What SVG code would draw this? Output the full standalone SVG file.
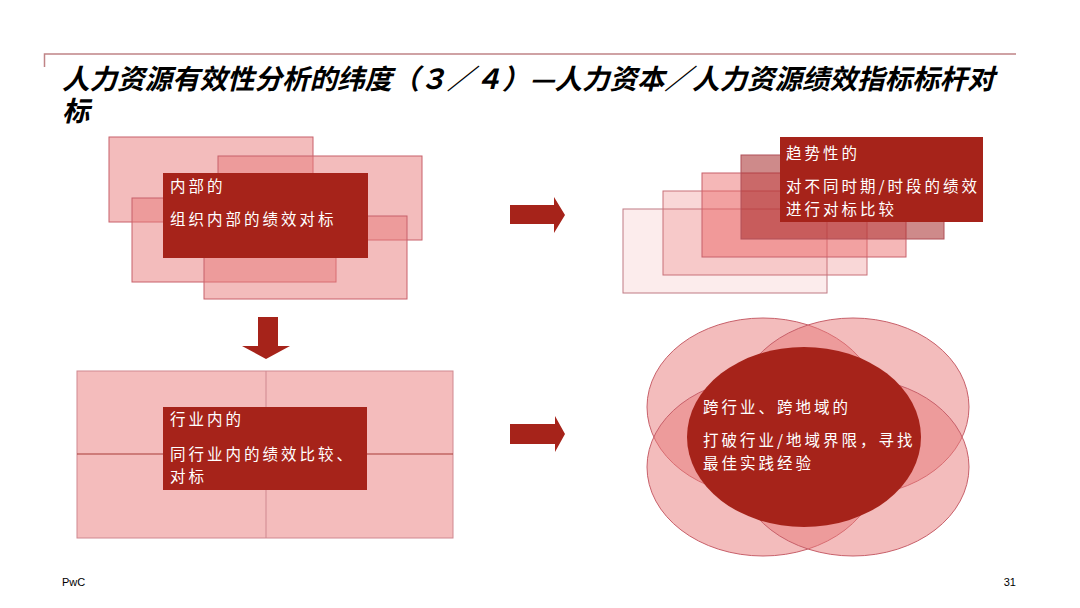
<svg xmlns="http://www.w3.org/2000/svg" width="1080" height="608" viewBox="0 0 1080 608">
<defs>
<style>
.title{font-family:"Noto Sans CJK SC","Noto Sans",sans-serif;font-size:27.5px;font-style:italic;font-weight:bold;fill:#000}
.bt{font-family:"Noto Sans CJK SC","Noto Sans",sans-serif;font-size:15.5px;fill:#fff;letter-spacing:3px}
.foot{font-family:"Liberation Sans",Arial,sans-serif;font-size:11px;fill:#000}
.pk{fill:#e8797a;fill-opacity:0.5;stroke:#c8606a;stroke-width:1}
.dk{fill:#a6231a}
.arr{fill:#a6231a}
</style>
</defs>
<rect width="1080" height="608" fill="#fff"/>
<g id="title">
<polyline points="44.5,67 44.5,54 1016,54" fill="none" stroke="#c08486" stroke-width="1.5"/>
<text class="title" x="62" y="89">人力资源有效性分析的纬度（３／４）—人力资本／人力资源绩效指标标杆对</text>
<text class="title" x="62" y="121">标</text>
</g>
<g id="internal">
<rect class="pk" x="109" y="137" width="204" height="85"/>
<rect class="pk" x="218" y="156" width="204" height="84"/>
<rect class="pk" x="132" y="198" width="204" height="84"/>
<rect class="pk" x="204" y="216" width="203" height="83"/>
<rect class="dk" x="163" y="173" width="205" height="85"/>
<text class="bt" x="170" y="192">内部的</text>
<text class="bt" x="170" y="225">组织内部的绩效对标</text>
</g>
<g id="trend">
<rect x="623" y="209" width="204" height="84" fill="#e8605f" fill-opacity="0.12" stroke="#c07a84" stroke-width="1"/>
<rect x="663" y="191" width="204" height="84" fill="#e8605f" fill-opacity="0.25" stroke="#c87078" stroke-width="1"/>
<rect x="702" y="173" width="204" height="84" fill="#e8605f" fill-opacity="0.45" stroke="#c8606a" stroke-width="1"/>
<rect x="741" y="155" width="203" height="84" fill="#a52a2a" fill-opacity="0.55" stroke="#b05058" stroke-width="1"/>
<rect class="dk" x="780" y="137" width="203" height="85"/>
<text class="bt" x="786" y="159">趋势性的</text>
<text class="bt" x="786" y="192">对不同时期/时段的绩效</text>
<text class="bt" x="786" y="215">进行对标比较</text>
</g>
<g id="industry">
<rect x="77" y="371" width="376" height="167" fill="#f4bcbc" stroke="#d08890" stroke-width="1"/>
<line x1="266" y1="371" x2="266" y2="538" stroke="#d08890" stroke-width="1"/>
<line x1="77" y1="454" x2="453" y2="454" stroke="#a83a36" stroke-width="1"/>
<rect class="dk" x="163" y="407" width="204" height="83"/>
<text class="bt" x="170" y="425">行业内的</text>
<text class="bt" x="170" y="460">同行业内的绩效比较、</text>
<text class="bt" x="170" y="482">对标</text>
</g>
<g id="cross">
<ellipse class="pk" cx="763" cy="407" rx="116" ry="89"/>
<ellipse class="pk" cx="853" cy="407" rx="116" ry="89"/>
<ellipse class="pk" cx="763" cy="467" rx="116" ry="89"/>
<ellipse class="pk" cx="853" cy="467" rx="116" ry="89"/>
<ellipse class="dk" cx="804" cy="437" rx="117" ry="90"/>
<text class="bt" x="703" y="413">跨行业、跨地域的</text>
<text class="bt" x="703" y="446">打破行业/地域界限，寻找</text>
<text class="bt" x="703" y="469">最佳实践经验</text>
</g>
<g id="connectors">
<polygon class="arr" points="510,205 554,205 554,197 565,215 554,233 554,224 510,224"/>
<polygon class="arr" points="258,317 278,317 278,346 290,346 266,359 242,346 258,346"/>
<polygon class="arr" points="510,424 555,424 555,416 565,434 555,452 555,444 510,444"/>
</g>
<g id="footer">
<text class="foot" x="62" y="586">PwC</text>
<text class="foot" x="1016" y="586" text-anchor="end">31</text>
</g>
</svg>
